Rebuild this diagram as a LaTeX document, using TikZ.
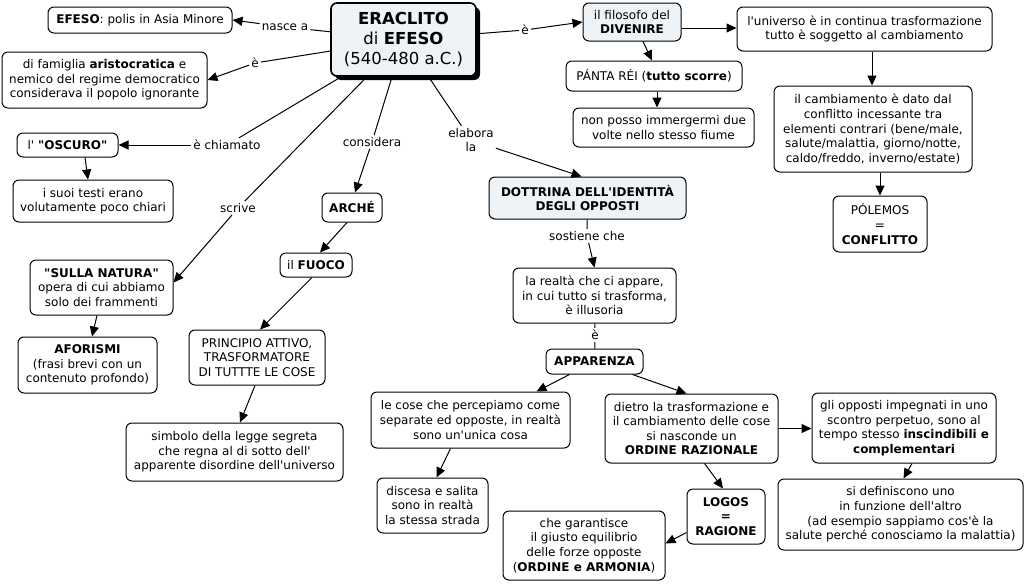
\documentclass[tikz,border=0pt]{standalone}
\usepackage{fontspec}
\setmainfont{DejaVu Sans}[Ligatures=TeXOff]
\usetikzlibrary{arrows.meta,shadows}
\definecolor{boxblue}{HTML}{EDF3F6}
\begin{document}
\begin{tikzpicture}[x=1pt,y=-1pt,
  font=\fontsize{12}{14.6}\selectfont,
  box/.style={draw, line width=1pt, rounded corners=6pt, fill=white, align=center, inner sep=0pt},
  hl/.style={box, fill=boxblue},
  lbl/.style={inner sep=2pt, align=center},
  ln/.style={line width=1pt},
  arr/.style={ln, -{Triangle[length=10pt,width=9pt]}},
]
\useasboundingbox (0,0) rectangle (1025,584);
\fill[white] (0,0) rectangle (1025,584);

% concept boxes
\node[box, minimum width=184pt, minimum height=26pt] (efeso) at (140,20) {\textbf{EFESO}: polis in Asia Minore};
\node[box, minimum width=205pt, minimum height=56pt] (famiglia) at (104.5,80) {di famiglia \textbf{aristocratica} e\\nemico del regime democratico\\considerava il popolo ignorante};
\node[hl, line width=1.6pt, minimum width=145pt, minimum height=73pt, font=\fontsize{16.5}{20}\selectfont, drop shadow={shadow xshift=4pt, shadow yshift=-4pt, fill=black, opacity=1}] (main) at (403.5,39.5) {\textbf{ERACLITO}\\di \textbf{EFESO}\\(540-480 a.C.)};
\node[box, minimum width=101pt, minimum height=24pt] (oscuro) at (67.5,145) {l' \textbf{"OSCURO"}};
\node[box, minimum width=160pt, minimum height=42pt] (testi) at (93,201) {i suoi testi erano\\volutamente poco chiari};
\node[box, minimum width=143pt, minimum height=55pt] (sulla) at (101.5,287.5) {\textbf{"SULLA NATURA"}\\opera di cui abbiamo\\solo dei frammenti};
\node[box, minimum width=139pt, minimum height=56pt] (aforismi) at (87.5,365) {\textbf{AFORISMI}\\(frasi brevi con un\\contenuto profondo)};
\node[box, minimum width=60pt, minimum height=29pt] (arche) at (352,207.5) {\textbf{ARCHÉ}};
\node[box, minimum width=72pt, minimum height=24pt] (fuoco) at (316,265) {il \textbf{FUOCO}};
\node[box, minimum width=136pt, minimum height=55pt] (principio) at (257,357.5) {PRINCIPIO ATTIVO,\\TRASFORMATORE\\DI TUTTTE LE COSE};
\node[box, minimum width=217pt, minimum height=58pt] (simbolo) at (234.5,452) {simbolo della legge segreta\\che regna al di sotto dell'\\apparente disordine dell'universo};
\node[hl, minimum width=98pt, minimum height=38pt] (divenire) at (632,22) {il filosofo del\\\textbf{DIVENIRE}};
\node[box, minimum width=255pt, minimum height=44pt] (universo) at (864.5,29) {l'universo è in continua trasformazione\\tutto è soggetto al cambiamento};
\node[box, minimum width=176pt, minimum height=30pt] (panta) at (654,76) {PÁNTA RÉI (\textbf{tutto scorre})};
\node[box, minimum width=181pt, minimum height=39pt] (nonposso) at (663.5,127.5) {non posso immergermi due\\volte nello stesso fiume};
\node[hl, minimum width=197pt, minimum height=42pt] (dottrina) at (587.5,198) {\textbf{DOTTRINA DELL'IDENTITÀ}\\\textbf{DEGLI OPPOSTI}};
\node[box, minimum width=198pt, minimum height=86pt] (cambiamento) at (873,129) {il cambiamento è dato dal\\conflitto incessante tra\\elementi contrari (bene/male,\\salute/malattia, giorno/notte,\\caldo/freddo, inverno/estate)};
\node[box, minimum width=94pt, minimum height=56pt] (polemos) at (880,224) {PÓLEMOS\\=\\\textbf{CONFLITTO}};
\node[box, minimum width=163pt, minimum height=55pt] (realta) at (594.5,295.5) {la realtà che ci appare,\\in cui tutto si trasforma,\\è illusoria};
\node[box, minimum width=97pt, minimum height=25pt] (apparenza) at (594.5,361.5) {\textbf{APPARENZA}};
\node[box, minimum width=199pt, minimum height=56pt] (lecose) at (470.5,420) {le cose che percepiamo come\\separate ed opposte, in realtà\\sono un'unica cosa};
\node[box, minimum width=173pt, minimum height=69pt] (dietro) at (691.5,428.5) {dietro la trasformazione e\\il cambiamento delle cose\\si nasconde un\\\textbf{ORDINE RAZIONALE}};
\node[box, minimum width=184pt, minimum height=70pt] (opposti) at (904,428) {gli opposti impegnati in uno\\scontro perpetuo, sono al\\tempo stesso \textbf{inscindibili e}\\\textbf{complementari}};
\node[box, minimum width=111pt, minimum height=55pt] (discesa) at (432.5,505.5) {discesa e salita\\sono in realtà\\la stessa strada};
\node[box, minimum width=78pt, minimum height=55pt] (logos) at (726,516.5) {\textbf{LOGOS}\\\textbf{=}\\\textbf{RAGIONE}};
\node[box, minimum width=162pt, minimum height=69pt] (garantisce) at (584,545.5) {che garantisce\\il giusto equilibrio\\delle forze opposte\\(\textbf{ORDINE e ARMONIA})};
\node[box, minimum width=245pt, minimum height=71pt] (definiscono) at (900.5,514.5) {si definiscono uno\\in funzione dell'altro\\(ad esempio sappiamo cos'è la\\salute perché conosciamo la malattia)};

% link labels
\node[lbl] (lnasce) at (285,27) {nasce a};
\node[lbl] (le1) at (255,63) {è};
\node[lbl] (lchiam) at (227,145) {è chiamato};
\node[lbl] (lscrive) at (238,208) {scrive};
\node[lbl] (lcons) at (372,142) {considera};
\node[lbl] (lelab) at (471,140) {elabora\\la};
\node[lbl] (le2) at (525,30) {è};
\node[lbl] (lsost) at (587,236) {sostiene che};
\node[lbl] (le3) at (595,335) {è};

% labelled links
\draw[ln] (main) -- (lnasce); \draw[arr] (lnasce) -- (efeso.east);
\draw[ln] (main) -- (le1); \draw[arr] (le1) -- (famiglia.east);
\draw[ln] (main) -- (lchiam); \draw[arr] (lchiam) -- (oscuro);
\draw[ln] (main) -- (lscrive); \draw[arr] (lscrive) -- ([yshift=5pt]sulla.east);
\draw[ln] (main) -- (lcons); \draw[arr] (lcons) -- ([xshift=3pt]arche.north);
\draw[ln] (main) -- (lelab); \draw[arr] (lelab) -- ([xshift=-6pt]dottrina.north);
\draw[ln] (main) -- (le2); \draw[arr] (le2) -- (divenire.west);
\draw[ln] (dottrina) -- (lsost); \draw[arr] (lsost) -- (realta.north);
\draw[ln] (realta) -- (le3); \draw[ln] (le3) -- (apparenza);

% plain links
\draw[arr] ([xshift=17.5pt]oscuro.south) -- ([xshift=-5pt]testi.north);
\draw[arr] ([xshift=-4.5pt]sulla.south) -- ([xshift=4.5pt]aforismi.north);
\draw[arr] ([xshift=-5pt]arche.south) -- ([xshift=4pt]fuoco.north);
\draw[arr] ([xshift=-4pt]fuoco.south) -- ([xshift=3pt]principio.north);
\draw[arr] ([xshift=-2pt]principio.south) -- ([xshift=5.5pt]simbolo.north);
\draw[arr] ([yshift=-6pt]divenire.east) -- ([yshift=-6pt]divenire.east -| universo.west);
\draw[arr] ([xshift=11pt]divenire.south) -- ([xshift=-2pt]panta.north);
\draw[arr] ([xshift=3pt]panta.south) -- ([xshift=3pt]panta.south |- nonposso.north);
\draw[arr] ([xshift=7.5pt]universo.south) -- ([xshift=7.5pt]universo.south |- cambiamento.north);
\draw[arr] ([xshift=7pt]cambiamento.south) -- (polemos.north);
\draw[arr] ([xshift=-25pt]apparenza.south) -- ([xshift=66pt]lecose.north);
\draw[arr] ([xshift=38pt]apparenza.south) -- ([xshift=-5pt]dietro.north);
\draw[arr] ([xshift=-20pt]lecose.south) -- ([xshift=4pt]discesa.north);
\draw[arr] (dietro.east) -- (dietro.east -| opposti.west);
\draw[arr] ([xshift=13pt]dietro.south) -- ([xshift=-3pt]logos.north);
\draw[arr] ([yshift=-16pt]logos.west) -- ([yshift=2pt]garantisce.east);
\draw[arr] ([xshift=8pt]opposti.south) -- ([xshift=3pt]definiscono.north);
\end{tikzpicture}
\end{document}
